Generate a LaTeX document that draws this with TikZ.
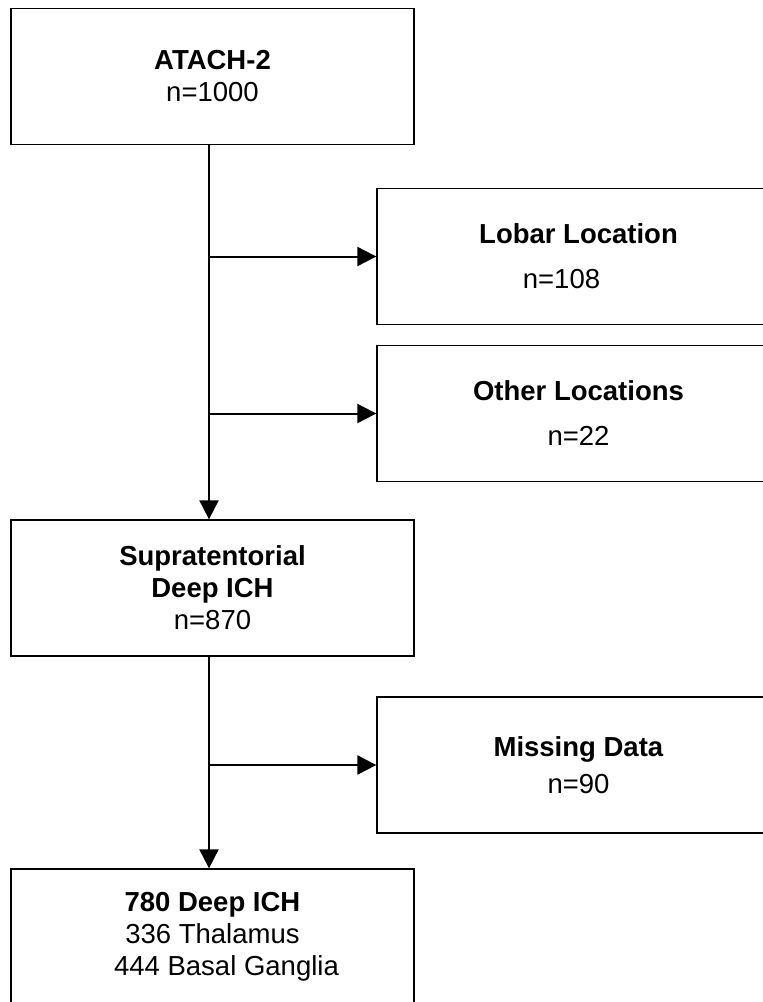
\documentclass[tikz,border=0pt]{standalone}
\usepackage{fontspec}
\setmainfont{Liberation Sans}
\usetikzlibrary{arrows.meta}
\tikzset{
  box/.style={draw=black, line width=1.3pt, minimum width=403pt, minimum height=136pt,
    align=center, inner sep=0pt, font=\fontsize{27.5}{32}\selectfont},
  flow/.style={line width=2pt, -{Triangle[length=19pt, width=19pt]}}
}
\begin{document}
\begin{tikzpicture}[x=1pt, y=-1pt]
    \useasboundingbox (0, 0) rectangle (763, 1002);
    \node[box] (atach) at (212.5, 76.5) {\textbf{ATACH-2}\\n=1000};
    \node[box] (lobar) at (578.5, 256.5) {\textbf{Lobar Location}\\[13pt]n=108\hspace*{34pt}};
    \node[box] (other) at (578.5, 413.5) {\textbf{Other Locations}\\[13pt]n=22};
    \node[box] (supra) at (212.5, 588) {\textbf{Supratentorial}\\\textbf{Deep ICH}\\n=870};
    \node[box] (missing) at (578.5, 765) {\textbf{Missing Data}\\[5pt]n=90};
    \node[box] (deep) at (212.5, 937) {\textbf{780 Deep ICH}\\336 Thalamus\\\hspace*{28pt}444 Basal Ganglia};
    \coordinate (trunk) at (209, 0);
    \draw[flow] (atach.south -| trunk) -- (supra.north -| trunk);
    \draw[flow] (lobar.west -| trunk) -- (lobar.west);
    \draw[flow] (other.west -| trunk) -- (other.west);
    \draw[flow] (supra.south -| trunk) -- (deep.north -| trunk);
    \draw[flow] (missing.west -| trunk) -- (missing.west);
  \end{tikzpicture}
\end{document}
